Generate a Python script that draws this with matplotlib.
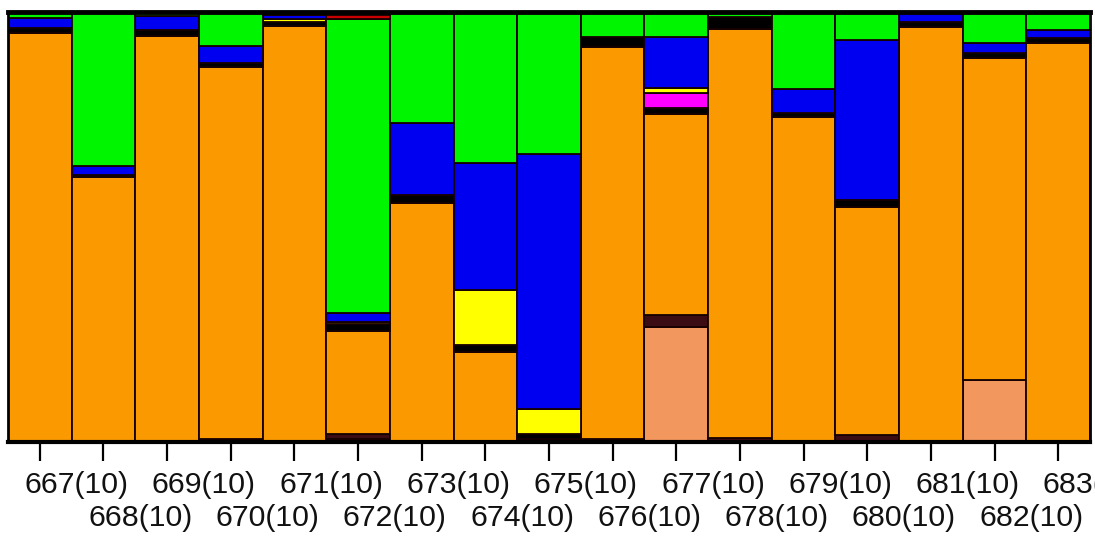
import numpy as np
import matplotlib
matplotlib.use("Agg")
import matplotlib.pyplot as plt

# populations along the x axis, each with sample size in brackets
pops = list(range(667, 684))
sizes = [10] * len(pops)

# cluster membership per population, stacked bottom to top
salmon  = [0, 0, 0, 0, 0, .007, 0, 0, .007, 0, .267, 0, 0, 0, 0, .144, 0]
brown   = [0, 0, 0, .008, 0, .012, 0, 0, 0, .008, .028, .009, 0, .016, 0, 0, 0]
orange  = [.951, .616, .944, .863, .967, .240, .556, .209, 0, .910, .467, .951, .756, .530, .965, .749, .928]
black   = [.012, .005, .014, .010, .010, .016, .019, .016, .012, .023, .014, .028, .009, .016, .012, .012, .012]
magenta = [0, 0, 0, 0, 0, 0, 0, 0, 0, 0, .035, 0, 0, 0, 0, 0, 0]
yellow  = [0, 0, 0, 0, .007, .005, 0, .128, .058, 0, .012, 0, 0, 0, 0, 0, 0]
blue    = [.023, .020, .032, .040, .010, .019, .167, .295, .593, 0, .119, 0, .056, .372, .023, .023, .019]
green   = [.014, .359, .010, .079, .006, .684, .258, .352, .330, .059, .058, .012, .179, .066, 0, .072, .042]
red     = [0, 0, 0, 0, 0, .010, 0, 0, 0, 0, 0, 0, 0, 0, 0, 0, 0]

clusters = [
    (salmon, "#f2975e"),
    (brown, "#3c0c14"),
    (orange, "#fb9a00"),
    (black, "#000000"),
    (magenta, "#ff00ff"),
    (yellow, "#ffff00"),
    (blue, "#0000f0"),
    (green, "#00f500"),
    (red, "#c80000"),
]

plt.rcParams["font.family"] = ["Liberation Sans", "DejaVu Sans"]

fig = plt.figure(figsize=(10.95, 5.37), dpi=100)
ax = fig.add_axes([8 / 1095, 95 / 537, 1082 / 1095, 430 / 537])

x = np.arange(len(pops))
bottom = np.zeros(len(pops))
for vals, col in clusters:
    vals = np.array(vals)
    ax.bar(x, vals, width=1.0, bottom=bottom, color=col,
           edgecolor="#160000", linewidth=1.3)
    bottom += vals

ax.set_xlim(-0.5, len(pops) - 0.5)
ax.set_ylim(0, 1.0)
ax.set_yticks([])

for s in ax.spines.values():
    s.set_color("black")
    s.set_linewidth(2)
ax.spines["top"].set_linewidth(3.5)
ax.spines["bottom"].set_linewidth(3)

ax.set_xticks(x)
ax.set_xticklabels([])
ax.tick_params(axis="x", length=14, width=1.6, color="black", direction="out")

# staggered labels, two rows
for i, (p, n) in enumerate(zip(pops, sizes)):
    dy = -31 if i % 2 == 0 else -55
    ax.annotate(f"{p}({n})", xy=(i, 0), xycoords=("data", "axes fraction"),
                xytext=(-11, dy), textcoords="offset points",
                ha="left", va="center", fontsize=21.8, color="#111111",
                annotation_clip=False)

fig.savefig("out.png", dpi=100, facecolor="white")
